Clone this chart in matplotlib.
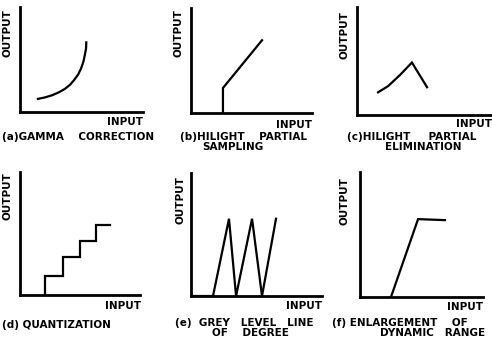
import matplotlib
matplotlib.use("Agg")
import matplotlib.pyplot as plt

W, H = 492, 341
plt.rcParams['font.family'] = ['Liberation Sans Narrow', 'DejaVu Sans']
plt.rcParams['font.weight'] = 'bold'

# ---- data (axis units 0..10 for each panel) ----
gamma_x = [1.46, 2.03, 2.60, 3.17, 3.66, 4.07, 4.39, 4.72, 4.96, 5.16, 5.28, 5.37, 5.39]
gamma_y = [1.25, 1.39, 1.59, 1.88, 2.21, 2.60, 3.03, 3.56, 4.13, 4.81, 5.48, 6.06, 6.63]

hps_x = [2.64, 2.64, 5.87]
hps_y = [0.0, 2.38, 6.93]

hpe_x = [1.56, 2.30, 3.19, 4.07, 5.19]
hpe_y = [2.10, 2.67, 3.71, 4.86, 2.57]

quant_x = [2.08, 2.08, 3.58, 5.00, 6.33, 7.50]
quant_y = [0.00, 1.52, 3.12, 4.40, 5.68, 5.68]

grey_x = [0.0, 1.68, 2.90, 3.44, 4.66, 5.42, 6.49]
grey_y = [0.0, 0.00, 6.28, 0.00, 6.28, 0.00, 6.28]

dyn_x = [2.52, 4.72, 6.91]
dyn_y = [0.00, 6.23, 6.15]

captions = [
    ["(a)GAMMA    CORRECTION"],
    ["(b)HILIGHT    PARTIAL", "SAMPLING"],
    ["(c)HILIGHT     PARTIAL", "ELIMINATION"],
    ["(d) QUANTIZATION"],
    ["(e)  GREY   LEVEL   LINE", "OF    DEGREE"],
    ["(f) ENLARGEMENT    OF", "DYNAMIC   RANGE"],
]
xlabel = "INPUT"
ylabel = "OUTPUT"

# ---- layout (pixels) ----
# left, bottom(y px from top), right, top
rects = [
    (20, 112, 143, 7),
    (191, 113, 312, 8),
    (357, 115, 492, 7),
    (20, 295, 140, 172),
    (191, 296, 322, 173),
    (360, 297, 483, 172),
]
series = [(gamma_x, gamma_y, 'default'), (hps_x, hps_y, 'default'),
          (hpe_x, hpe_y, 'default'), (quant_x, quant_y, 'steps-post'),
          (grey_x, grey_y, 'default'), (dyn_x, dyn_y, 'default')]

# caption placement: (line1 x-left, line1 y, line2 center x, line2 y)
cap_pos = [
    (2, 137, None, None),
    (180, 137, 233, 147),
    (347, 137, 423, 147),
    (2, 325, None, None),
    (175, 323, 250, 333),
    (332, 323, 433, 333),
]
ylab_pos = [(8, 33), (178, 33), (345, 35), (8, 196), (180, 200), (345, 201)]
xlab_pos = [(143, 122), (312, 125), (492, 124), (141, 306), (322, 306), (483, 307)]

fig = plt.figure(figsize=(W / 100, H / 100), dpi=100)

def fx(px):
    return px / W

def fy(py):
    return 1 - py / H

for i, (l, b, r, t) in enumerate(rects):
    ax = fig.add_axes([fx(l), fy(b), (r - l) / W, (b - t) / H])
    x, y, ds = series[i]
    ax.plot(x, y, color='black', lw=1.6, drawstyle=ds, solid_joinstyle='miter')
    ax.set_xlim(0, 10)
    ax.set_ylim(0, 10)
    ax.set_xticks([])
    ax.set_yticks([])
    for s in ('top', 'right'):
        ax.spines[s].set_visible(False)
    for s in ('left', 'bottom'):
        ax.spines[s].set_linewidth(2.0)
        ax.spines[s].set_color('black')
    ax.patch.set_alpha(0)

    lx, ly = ylab_pos[i]
    fig.text(fx(lx), fy(ly), ylabel, rotation=90, ha='center', va='center',
             fontsize=7.5, fontweight='bold')
    xx, xy = xlab_pos[i]
    fig.text(fx(xx), fy(xy), xlabel, ha='right', va='center',
             fontsize=7.5, fontweight='bold')
    c = captions[i]
    cx, cy, c2x, c2y = cap_pos[i]
    fig.text(fx(cx), fy(cy), c[0], ha='left', va='center', fontsize=7.5,
             fontweight='bold')
    if len(c) > 1:
        fig.text(fx(c2x), fy(c2y), c[1], ha='center', va='center',
                 fontsize=7.5, fontweight='bold')

fig.savefig('out.png', dpi=100, facecolor='white')
